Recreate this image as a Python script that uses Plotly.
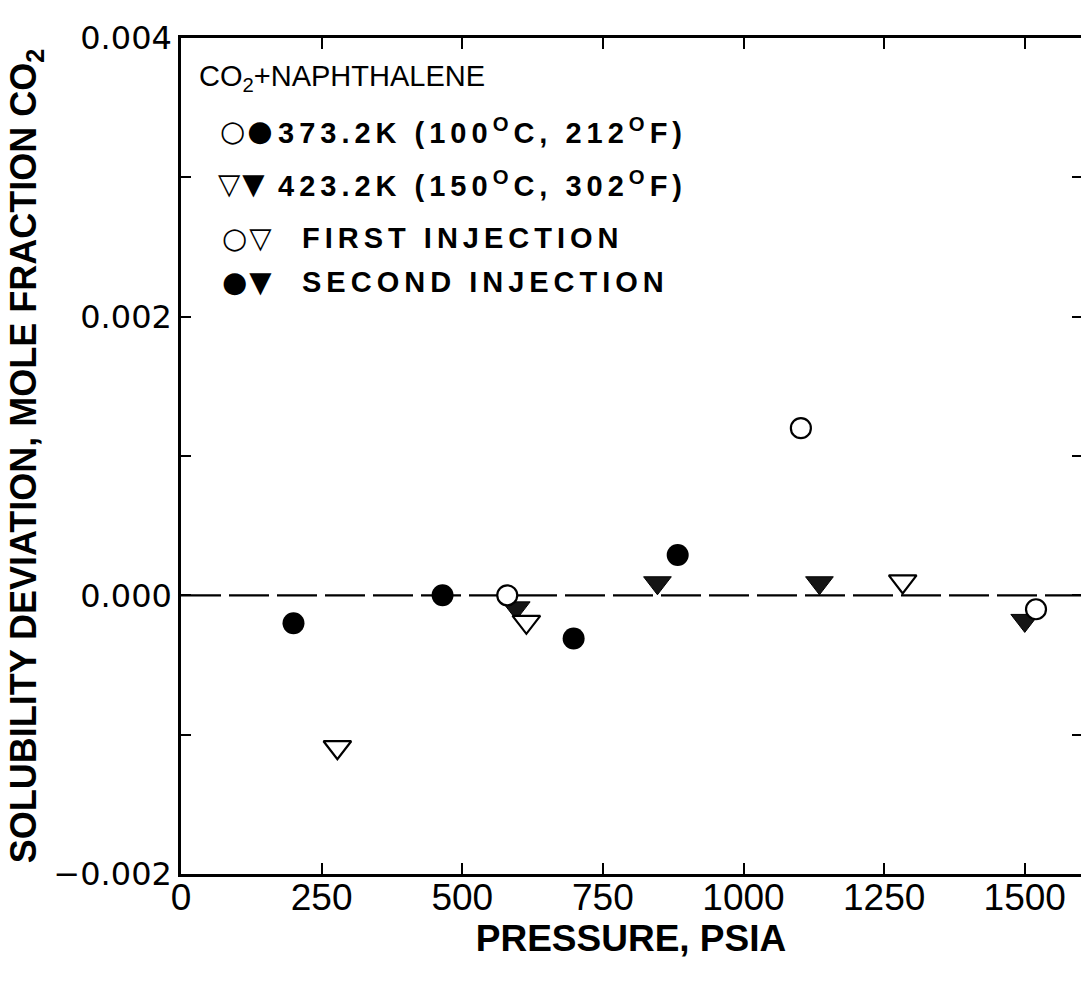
import plotly.graph_objects as go

# ---------------- data ----------------
# 373.2 K, first injection (open circles)
p_373_first = [580, 1102, 1520]
d_373_first = [0.0, 0.0012, -0.0001]
# 373.2 K, second injection (filled circles)
p_373_second = [200, 465, 698, 883]
d_373_second = [-0.0002, 0.0, -0.00031, 0.00029]
# 423.2 K, first injection (open triangles)
p_423_first = [278, 614, 1283]
d_423_first = [-0.00109, -0.00019, 0.0001]
# 423.2 K, second injection (filled triangles)
p_423_second = [596, 847, 1135, 1500]
d_423_second = [-0.00009, 0.00009, 0.00009, -0.00018]

x_tickvals = [0, 250, 500, 750, 1000, 1250, 1500]
x_ticktext = ["0", "250", "500", "750", "1000", "1250", "1500"]
y_tickvals = [-0.002, -0.001, 0.0, 0.001, 0.002, 0.003, 0.004]
y_ticktext = ["\u22120.002", "", "0.000", "", "0.002", "", "0.004"]

legend_title = "CO<sub>2</sub>+NAPHTHALENE"
legend_symbols = ["\u25CB\u25CF", "\u25BD\u25BC", "\u25CB\u25BD", "\u25CF\u25BC"]
legend_texts = [
    "373.2K (100<sup>O</sup>C, 212<sup>O</sup>F)",
    "423.2K (150<sup>O</sup>C, 302<sup>O</sup>F)",
    "FIRST INJECTION",
    "SECOND INJECTION",
]

X_RANGE = [0, 1600]
Y_RANGE = [-0.002, 0.004]

fig = go.Figure()

fig.add_trace(go.Scatter(
    x=p_423_second, y=d_423_second, mode="markers",
    marker=dict(symbol="triangle-down", size=24, color="#151515",
                line=dict(color="#000", width=1)),
    showlegend=False, hoverinfo="skip"))
fig.add_trace(go.Scatter(
    x=p_373_first, y=d_373_first, mode="markers",
    marker=dict(symbol="circle", size=20, color="white",
                line=dict(color="#000", width=2.2)),
    showlegend=False, hoverinfo="skip"))
fig.add_trace(go.Scatter(
    x=p_423_first, y=d_423_first, mode="markers",
    marker=dict(symbol="triangle-down", size=24, color="white",
                line=dict(color="#000", width=2.2)),
    showlegend=False, hoverinfo="skip"))
fig.add_trace(go.Scatter(
    x=p_373_second, y=d_373_second, mode="markers",
    marker=dict(symbol="circle", size=22, color="#000",
                line=dict(color="#000", width=0)),
    showlegend=False, hoverinfo="skip"))
# dummy trace so the right-hand (mirrored) tick marks are drawn
fig.add_trace(go.Scatter(x=[None], y=[None], yaxis="y2", showlegend=False,
                         hoverinfo="skip"))

# dashed zero line
fig.add_shape(type="line", xref="paper", yref="y", x0=0, x1=1, y0=0, y1=0,
              line=dict(color="#000", width=2.4, dash="40px,8px"), layer="below")

leg_font = "Liberation Sans, Arial, sans-serif"
# header
fig.add_annotation(text=legend_title, xref="paper", yref="paper", x=0.018, y=1,
                   yshift=-40, xanchor="left", yanchor="middle", showarrow=False,
                   font=dict(family=leg_font, size=29, color="#000"))
row_shift = [-93, -146, -200, -244]
sym_x = [0.041, 0.039, 0.043, 0.043]
txt_x = [0.106, 0.106, 0.132, 0.132]
for i in range(4):
    fig.add_annotation(text=legend_symbols[i], xref="paper", yref="paper",
                       x=sym_x[i], y=1, yshift=row_shift[i], xanchor="left",
                       yanchor="middle", showarrow=False,
                       font=dict(family="DejaVu Sans, sans-serif", size=29, color="#000"))
for i in range(4):
    fig.add_annotation(text="<b>" + legend_texts[i] + "</b>", xref="paper", yref="paper",
                       x=txt_x[i], y=1, yshift=row_shift[i], xanchor="left",
                       yanchor="middle", showarrow=False,
                       font=dict(family=leg_font, size=29, color="#000"))

axis_font = dict(family="Liberation Sans, Arial, sans-serif", color="#000")

fig.update_layout(
    width=1081, height=981,
    margin=dict(l=181, r=0, t=38, b=107),
    paper_bgcolor="white", plot_bgcolor="white",
    xaxis=dict(
        range=X_RANGE, tickvals=x_tickvals, ticktext=x_ticktext,
        ticks="inside", ticklen=11, tickwidth=2, tickcolor="#000",
        showline=True, linewidth=2.5, linecolor="#000", mirror="ticks",
        showgrid=False, zeroline=False, ticklabelstandoff=-11,
        tickfont=dict(size=37, **axis_font),
        title=dict(text="<b>PRESSURE, PSIA</b>", standoff=0,
                   font=dict(size=37, **axis_font)),
    ),
    yaxis=dict(
        range=Y_RANGE, tickvals=y_tickvals, ticktext=y_ticktext,
        ticks="inside", ticklen=10, tickwidth=2, tickcolor="#000",
        showline=True, linewidth=2.5, linecolor="#000",
        showgrid=False, zeroline=False,
        tickfont=dict(size=32, family="DejaVu Sans, sans-serif", color="#000"),
        title=dict(text="<b>SOLUBILITY DEVIATION, MOLE FRACTION CO<sub>2</sub></b>",
                   standoff=6,
                   font=dict(size=36, family="Liberation Sans, Arial, sans-serif",
                             color="#000")),
    ),
    yaxis2=dict(
        range=Y_RANGE, overlaying="y", side="right", tickvals=y_tickvals,
        ticks="inside", ticklen=9, tickwidth=2, tickcolor="#000",
        showticklabels=False, showline=False, showgrid=False, zeroline=False,
    ),
)

# the original typesetting uses wide letter spacing in the legend rows;
# keep each row's left edge fixed while spreading the letters
post = """
var anns = document.querySelectorAll('g.annotation text.annotation-text');
function spread(el, ls) {
  var b0 = el.getBBox();
  el.style.letterSpacing = ls;
  var b1 = el.getBBox();
  el.setAttribute('transform', 'translate(' + (b0.x - b1.x) + ',0)');
}
for (var i = 1; i < 5 && i < anns.length; i++) { spread(anns[i], '2px'); }
for (var j = 5; j < 9 && j < anns.length; j++) { spread(anns[j], '5px'); }
"""
fig.write_html("out.html", post_script=post)
